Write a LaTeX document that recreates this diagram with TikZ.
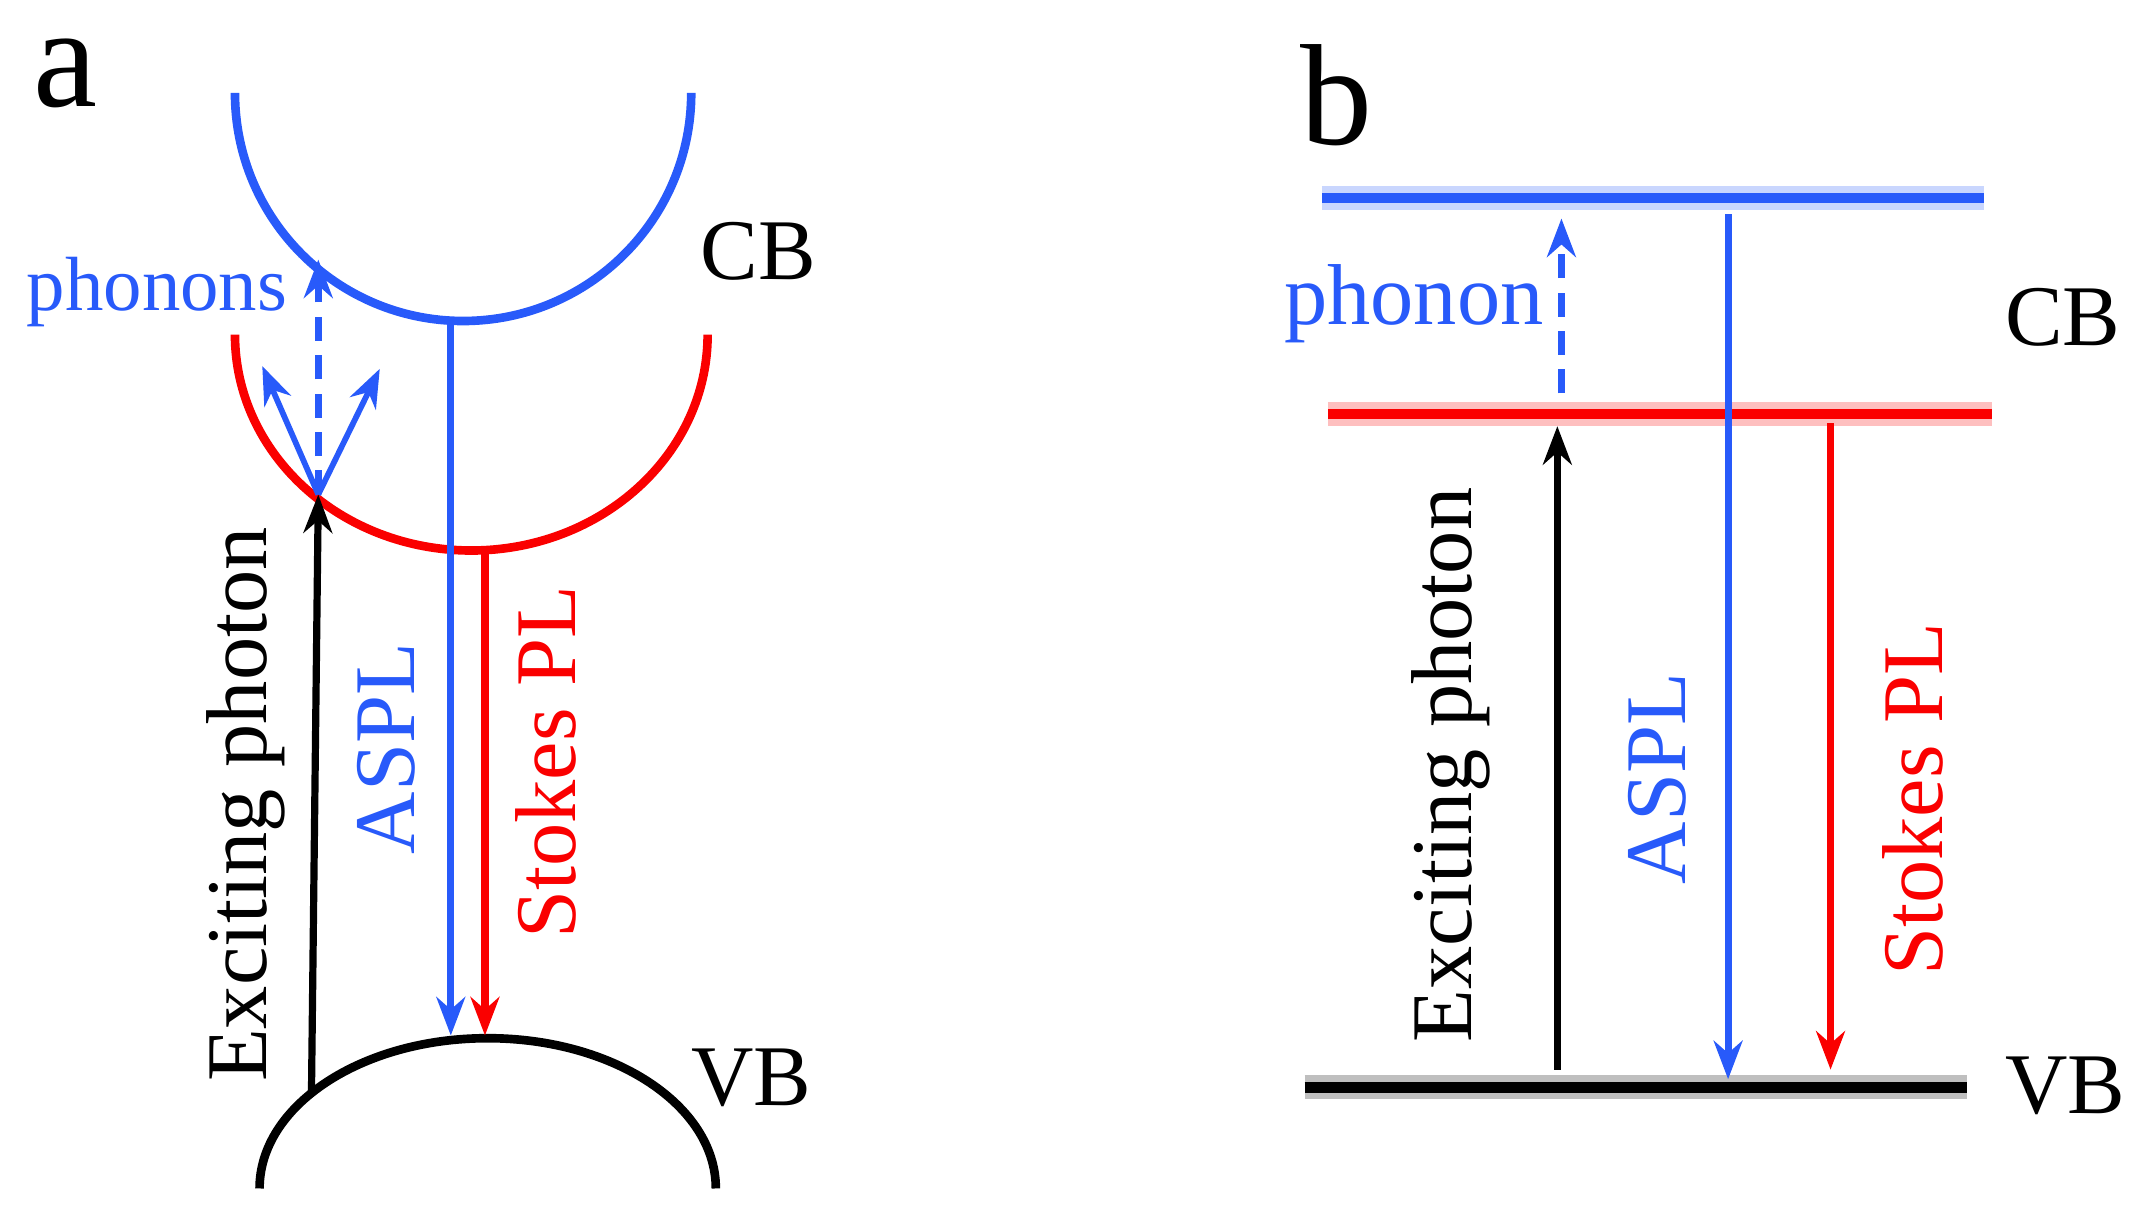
\documentclass[tikz,border=0pt]{standalone}
\usepackage{fontspec}
\newfontfamily\figserif{Liberation Serif}
\usetikzlibrary{arrows.meta}
\definecolor{bandblue}{RGB}{40, 90, 250}
\definecolor{bandred}{RGB}{250, 0, 0}

\begin{document}
\begin{tikzpicture}[
    band/.style={line width=1.8pt},
    level/.style={line width=2.2pt},
    glow/.style={line width=5pt, opacity=0.25},
    arrow/.style={-{Stealth[length=8pt, width=6pt]}, line width=1.5pt},
    dasharrow/.style={arrow, dashed, dash pattern=on 5pt off 3pt},
    lbl/.style={font=\figserif\fontsize{18}{18}\selectfont, inner sep=0pt},
    panel/.style={font=\figserif\fontsize{30}{30}\selectfont, inner sep=0pt}
]
    \useasboundingbox (0,0) rectangle (15.68,8.84);

    % panel a
    \node[panel] (labela) at (0.48,8.30) {a};
    \draw[band, bandblue] (1.72,8.16) arc[start angle=180, end angle=360, radius=1.67];
    \draw[band, bandred] (1.72,6.39) arc[start angle=180, end angle=360, x radius=1.73, y radius=1.58];
    \draw[band, black] (1.90,0.14) arc[start angle=180, end angle=0, x radius=1.67, y radius=1.10];

    \coordinate (cbmin) at (3.30,6.49);
    \coordinate (vbblue) at (3.30,1.26);
    \coordinate (redmin) at (3.55,4.81);
    \coordinate (vbred) at (3.55,1.26);
    \coordinate (exbot) at (2.28,0.84);
    \coordinate (extop) at (2.33,5.22);
    \coordinate (phtop) at (2.33,6.94);
    \coordinate (phleft) at (1.92,6.16);
    \coordinate (phright) at (2.78,6.14);

    \draw[arrow, bandblue] (cbmin) -- (vbblue);
    \draw[arrow, bandred] (redmin) -- (vbred);
    \draw[arrow, black] (exbot) -- (extop);
    \draw[dasharrow, bandblue] (extop) -- (phtop);
    \draw[arrow, bandblue, line width=1.2pt] (extop) -- (phleft);
    \draw[arrow, bandblue, line width=1.2pt] (extop) -- (phright);

    \node[lbl, bandblue, font=\figserif\fontsize{16}{16}\selectfont] (phonons) at (1.15,6.70) {phonons};
    \node[lbl] (cba) at (5.55,7.00) {CB};
    \node[lbl] (vba) at (5.50,0.95) {VB};
    \node[lbl, rotate=90] (exa) at (1.80,2.95) {Exciting photon};
    \node[lbl, bandblue, rotate=90] (aspla) at (2.83,3.36) {ASPL};
    \node[lbl, bandred, rotate=90] (stokesa) at (4.00,3.26) {Stokes PL};

    % panel b
    \node[panel] (labelb) at (9.78,8.14) {b};
    \draw[glow, bandblue] (9.68,7.39) -- (14.52,7.39);
    \draw[level, bandblue] (9.68,7.39) -- (14.52,7.39);
    \draw[glow, bandred] (9.72,5.81) -- (14.58,5.81);
    \draw[level, bandred] (9.72,5.81) -- (14.58,5.81);
    \draw[glow, black] (9.55,0.88) -- (14.40,0.88);
    \draw[level, black] (9.55,0.88) -- (14.40,0.88);

    \coordinate (bphbot) at (11.43,5.96);
    \coordinate (bphtop) at (11.43,7.24);
    \coordinate (bexbot) at (11.40,1.01);
    \coordinate (bextop) at (11.40,5.72);
    \coordinate (basplt) at (12.65,7.27);
    \coordinate (basplb) at (12.65,0.94);
    \coordinate (bstokt) at (13.40,5.74);
    \coordinate (bstokb) at (13.40,1.01);

    \draw[dasharrow, bandblue] (bphbot) -- (bphtop);
    \draw[arrow, black] (bexbot) -- (bextop);
    \draw[arrow, bandblue] (basplt) -- (basplb);
    \draw[arrow, bandred] (bstokt) -- (bstokb);

    \node[lbl, bandblue] (phonon) at (10.35,6.62) {phonon};
    \node[lbl] (cbb) at (15.10,6.52) {CB};
    \node[lbl] (vbb) at (15.12,0.89) {VB};
    \node[lbl, rotate=90] (exb) at (10.62,3.24) {Exciting photon};
    \node[lbl, bandblue, rotate=90] (asplb) at (12.13,3.14) {ASPL};
    \node[lbl, bandred, rotate=90] (stokesb) at (14.00,2.99) {Stokes PL};
\end{tikzpicture}
\end{document}
